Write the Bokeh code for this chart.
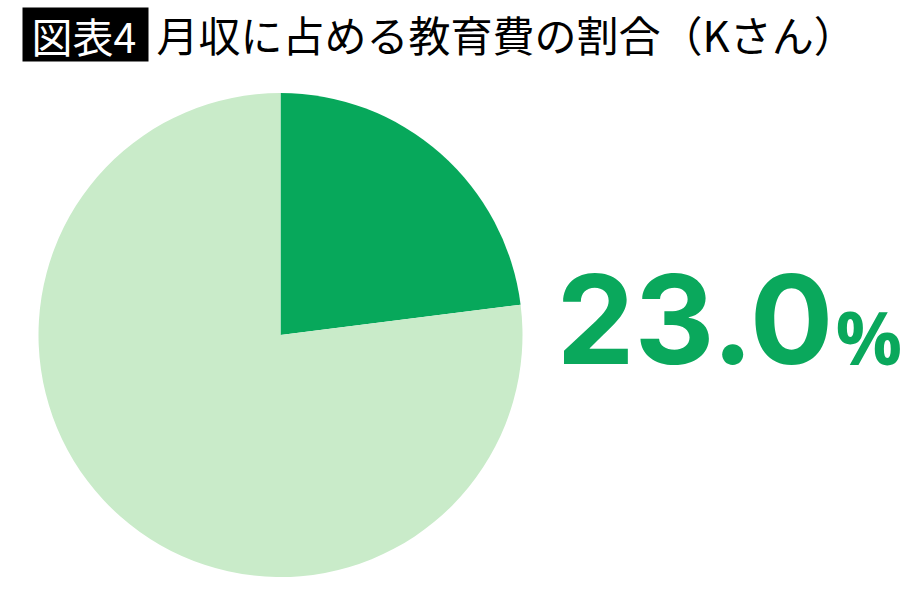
import numpy as np
from bokeh.plotting import figure
from bokeh.models import Range1d, ColumnDataSource
from bokeh.core.properties import value
from bokeh.embed import file_html
from bokeh.resources import INLINE

# ---- data ----
categories = ["教育費", "その他"]
shares = [23.0, 77.0]
colors = ["#07a85b", "#c9ebc9"]
label_value = "23.0"
label_unit = "%"
title_tag = "図表4"
title_text = "月収に占める教育費の割合（Kさん）"

W, H = 912, 592
p = figure(width=W, height=H, x_range=Range1d(0, W), y_range=Range1d(0, H),
           output_backend="svg", toolbar_location=None, min_border=0,
           x_axis_type=None, y_axis_type=None)
p.grid.visible = False
p.outline_line_color = None
p.background_fill_color = "white"
p.border_fill_color = "white"

# pie (starts at 12 o'clock, clockwise)
fr = np.array(shares) / sum(shares)
cum = np.concatenate([[0], np.cumsum(fr)])
start = np.pi / 2 - cum[1:] * 2 * np.pi
end = np.pi / 2 - cum[:-1] * 2 * np.pi
src = ColumnDataSource(dict(cat=categories, start=start, end=end, color=colors,
                            x=[280] * len(shares), y=[257.5] * len(shares)))
p.wedge(x="x", y="y", radius=242, start_angle="start", end_angle="end",
        fill_color="color", line_color=None, source=src)

# title
p.quad(left=[22], right=[148], top=[585], bottom=[531], fill_color="black", line_color=None)
p.text(x=[31], y=[558], text=[title_tag], text_color="white",
       text_font=value("Noto Sans CJK JP"), text_font_size="41px",
       text_baseline="middle", text_align="left")
p.text(x=[156], y=[559], text=[title_text], text_color="black",
       text_font=value("Noto Sans CJK JP"), text_font_size="42px",
       text_baseline="middle", text_align="left")

# big label
p.text(x=[556], y=[274], text=[label_value], text_color="#0aa85c",
       text_font=value("Inter"), text_font_size="124px", text_font_style="bold",
       text_baseline="middle", text_align="left")
p.text(x=[835], y=[256], text=[label_unit], text_color="#0aa85c",
       text_font=value("Open Sans"), text_font_size="74px", text_font_style="bold",
       text_baseline="middle", text_align="left")

open("out.html", "w").write(file_html(p, INLINE))
